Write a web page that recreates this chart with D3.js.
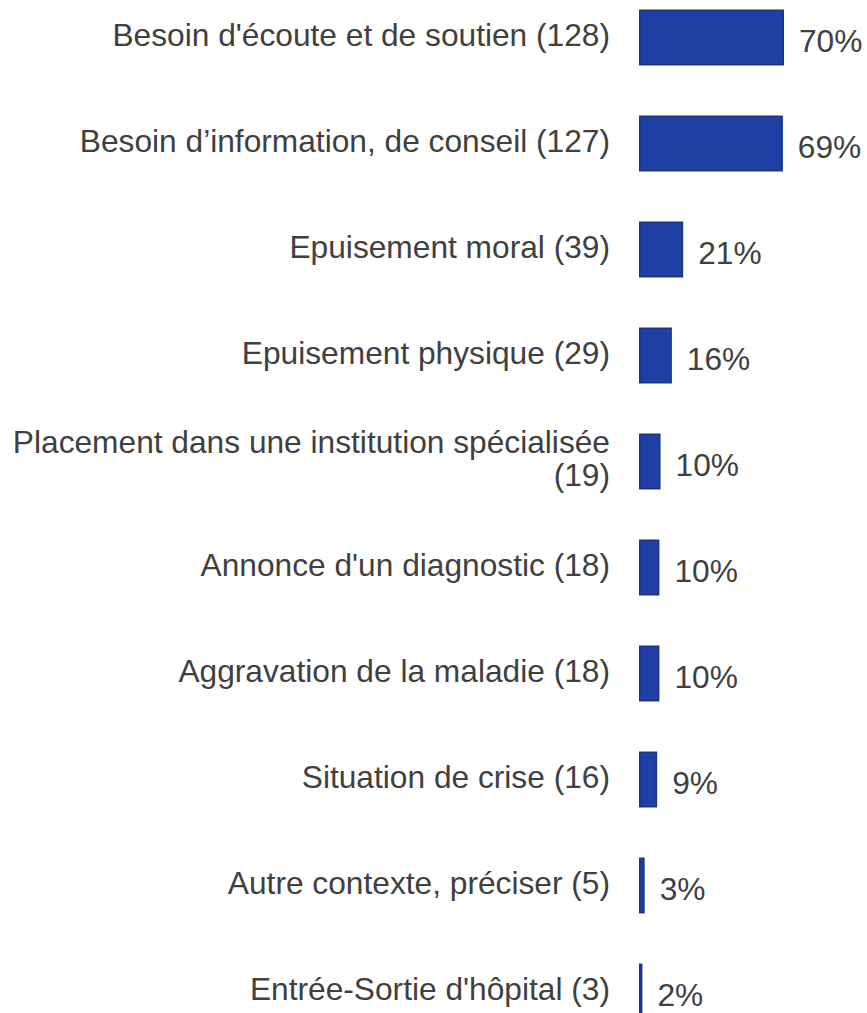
<!DOCTYPE html>
<html><head><meta charset="utf-8">
<script src="https://cdn.jsdelivr.net/npm/d3@7"></script>
<style>body{margin:0;background:#fff}svg{display:block}</style>
</head><body>
<script>
const categories = [
  "Besoin d'écoute et de soutien (128)",
  "Besoin d’information, de conseil (127)",
  "Epuisement moral (39)",
  "Epuisement physique (29)",
  "Placement dans une institution spécialisée\n(19)",
  "Annonce d'un diagnostic (18)",
  "Aggravation de la maladie (18)",
  "Situation de crise (16)",
  "Autre contexte, préciser (5)",
  "Entrée-Sortie d'hôpital (3)"
];
const counts = [128, 127, 39, 29, 19, 18, 18, 16, 5, 3];
const pctLabels = ["70%", "69%", "21%", "16%", "10%", "10%", "10%", "9%", "3%", "2%"];

const W = 867, H = 1013;
const svg = d3.select("body").append("svg").attr("width", W).attr("height", H);
const x0 = 639;
const x = d3.scaleLinear().domain([0, 128]).range([x0, 784]);
const y = d3.scaleBand().domain(categories).range([-15.5, 1044.5]).paddingInner(0.472).paddingOuter(0.236);
const fs = 31.7;
const font = "'Liberation Sans', Arial, sans-serif";

const rows = svg.selectAll("g.row").data(categories).enter().append("g");
rows.append("rect")
  .attr("x", x0 + 0.75)
  .attr("y", d => y(d) + 0.75)
  .attr("width", (d, i) => Math.max(0, x(counts[i]) - x0 - 1.5))
  .attr("height", y.bandwidth() - 1.5)
  .attr("fill", "#1f3fa5")
  .attr("stroke", "#1a3383")
  .attr("stroke-width", 1.5);

rows.each(function(d, i) {
  const lines = d.split("\n");
  const cy = y(d) + y.bandwidth() / 2;
  const lh = 33;
  const t = d3.select(this).append("text")
    .attr("x", 610).attr("text-anchor", "end")
    .attr("font-family", font).attr("font-size", fs).attr("fill", "#404040");
  lines.forEach((ln, k) => {
    t.append("tspan").attr("x", 610)
      .attr("y", cy - (lines.length - 1) * lh / 2 - 3 + k * lh)
      .attr("dy", "0.35em").text(ln);
  });
  d3.select(this).append("text")
    .attr("x", x(counts[i]) + 15)
    .attr("y", cy + 3).attr("dy", "0.35em")
    .attr("font-family", font).attr("font-size", fs).attr("fill", "#404040")
    .text(pctLabels[i]);
});
</script>
</body></html>
